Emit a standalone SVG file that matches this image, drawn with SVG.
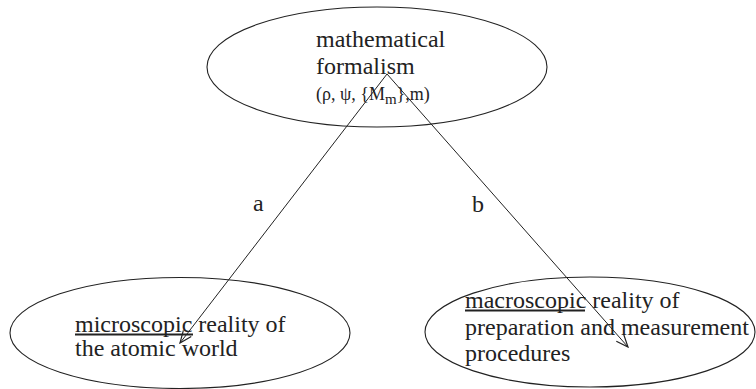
<svg xmlns="http://www.w3.org/2000/svg" width="756" height="389" viewBox="0 0 756 389">
<style>
.node ellipse{fill:none;stroke:#222;stroke-width:1.1}
.t{font-family:"Liberation Serif","Times New Roman",serif;font-size:24px;fill:#222}
.f{font-family:"Liberation Serif","Times New Roman",serif;font-size:18px;fill:#222}
.conn line{stroke:#222;stroke-width:1}
.ul{stroke:#222;stroke-width:2}
</style>
<defs>
<marker id="arr" markerWidth="14" markerHeight="12" refX="13" refY="6" orient="auto" markerUnits="userSpaceOnUse">
<path d="M1,1 L13,6 L1,11" fill="none" stroke="#222" stroke-width="1.2"/>
</marker>
</defs>
<rect width="756" height="389" fill="#fff"/>
<g id="formalism" class="node">
<ellipse cx="377" cy="67" rx="170" ry="60"/>
<text class="t" x="316" y="47">mathematical</text>
<text class="t" x="316" y="74">formalism</text>
<text class="f" x="316" y="100">(ρ, ψ, {M<tspan font-size="15" dy="4">m</tspan><tspan dy="-4">},m)</tspan></text>
</g>
<g id="microscopic" class="node">
<ellipse cx="180" cy="333" rx="170" ry="55.5"/>
<text class="t" x="75" y="332">microscopic reality of</text>
<text class="t" x="75" y="356">the atomic world</text>
<line class="ul" x1="75" y1="334.5" x2="193" y2="334.5"/>
</g>
<g id="macroscopic" class="node">
<ellipse cx="590" cy="332" rx="165" ry="55"/>
<text class="t" x="465" y="308">macroscopic reality of</text>
<text class="t" x="465" y="335">preparation and measurement</text>
<text class="t" x="465" y="361">procedures</text>
<line class="ul" x1="465" y1="310.5" x2="585" y2="310.5"/>
</g>
<g id="connectors" class="conn">
<line x1="387" y1="74" x2="180" y2="343" marker-end="url(#arr)"/>
<line x1="387" y1="74" x2="628" y2="347" marker-end="url(#arr)"/>
<text class="t" x="253" y="211">a</text>
<text class="t" x="472" y="212">b</text>
</g>
</svg>
